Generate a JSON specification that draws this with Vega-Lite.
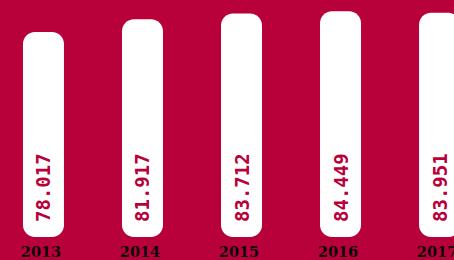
{
  "$schema": "https://vega.github.io/schema/vega-lite/v6.json",
  "width": 454,
  "height": 237,
  "autosize": "none",
  "padding": {"left": 0, "top": 0, "right": 0, "bottom": 23},
  "background": "#B8003A",
  "config": {"view": {"stroke": null}},
  "data": {"values": [
    {"year": 2013, "value": 78.017},
    {"year": 2014, "value": 81.917},
    {"year": 2015, "value": 83.712},
    {"year": 2016, "value": 84.449},
    {"year": 2017, "value": 83.951}
  ]},
  "encoding": {
    "x": {
      "field": "year", "type": "quantitative",
      "scale": {"domain": [2012.561, 2017.146], "zero": false, "nice": false, "padding": 0},
      "axis": {
        "title": null, "domain": false, "ticks": false, "grid": false, "labelAngle": 0,
        "values": [2013, 2014, 2015, 2016, 2017], "format": "d",
        "labelOverlap": false, "labelFlush": false, "labelBound": false,
        "labelFont": "DejaVu Serif", "labelFontWeight": "bold", "labelFontSize": 14.5,
        "labelColor": "#0A0A0A", "labelPadding": 8, "labelOffset": -3
      }
    }
  },
  "layer": [
    {
      "mark": {"type": "bar", "fill": "#FFFFFF", "cornerRadius": 12, "width": 41, "orient": "vertical"},
      "encoding": {
        "y": {"field": "value", "type": "quantitative", "scale": {"domain": [14.6, 87.9], "zero": false, "nice": false}, "axis": null},
        "y2": {"datum": 14.6}
      }
    },
    {
      "mark": {"type": "text", "angle": 270, "align": "left", "baseline": "middle", "dx": 15, "dy": 1,
               "font": "DejaVu Sans Mono", "fontWeight": "bold", "fontSize": 19, "fill": "#B8003A"},
      "encoding": {
        "y": {"datum": 14.6, "type": "quantitative"},
        "text": {"field": "value", "type": "quantitative", "format": ".3f"}
      }
    }
  ]
}
